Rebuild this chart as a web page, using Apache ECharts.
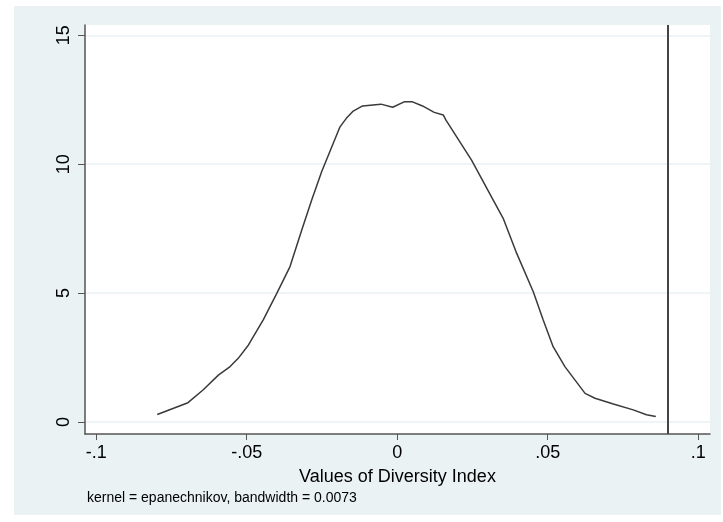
<!DOCTYPE html>
<html>
<head>
<meta charset="utf-8">
<script src="https://cdn.jsdelivr.net/npm/echarts@6/dist/echarts.min.js"></script>
<style>
  html, body { margin: 0; padding: 0; background: #ffffff; }
  #chart { width: 723px; height: 522px; }
</style>
</head>
<body>
<div id="chart"></div>
<script>
  // kernel density estimate
  const densityX = [
    -0.0797, -0.0695, -0.0645, -0.0594, -0.0555, -0.0528, -0.0494, -0.0445,
    -0.0400, -0.0356, -0.0317, -0.0284, -0.0251, -0.0190, -0.0169, -0.0146,
    -0.0115, -0.0054, -0.0015, 0.0023, 0.0051, 0.0084, 0.0123, 0.0153,
    0.0162, 0.0247, 0.0319, 0.0352, 0.0397, 0.0452, 0.0485, 0.0518,
    0.0557, 0.0624, 0.0657, 0.0718, 0.0784, 0.0828, 0.0859
  ]
  const densityY = [
    0.29, 0.75, 1.24, 1.82, 2.15, 2.47, 2.99, 3.96,
    4.99, 6.03, 7.45, 8.61, 9.71, 11.45, 11.78, 12.06,
    12.26, 12.33, 12.21, 12.42, 12.42, 12.26, 12.01, 11.91,
    11.71, 10.16, 8.61, 7.90, 6.54, 5.05, 3.96, 2.92,
    2.15, 1.11, 0.92, 0.70, 0.47, 0.28, 0.21
  ]
  const xTicks = [-0.1, -0.05, 0, 0.05, 0.1]
  const yTicks = [0, 5, 10, 15]
  const refLineX = 0.0908

  const font = "Arial, 'Liberation Sans', sans-serif"
  const chart = echarts.init(document.getElementById('chart'))

  chart.setOption({
    animation: false,
    backgroundColor: '#ffffff',
    graphic: [
      {
        type: 'rect',
        z: -10,
        shape: { x: 14, y: 6, width: 707, height: 509 },
        style: { fill: '#EAF2F3' },
      },
      {
        type: 'text',
        left: 87,
        top: 491,
        style: {
          text: 'kernel = epanechnikov, bandwidth = 0.0073',
          font: '14px ' + font,
          fill: '#000',
        },
      },
    ],
    grid: {
      left: 85,
      right: 13,
      top: 25,
      bottom: 88,
      show: true,
      backgroundColor: '#ffffff',
      borderWidth: 0,
    },
    xAxis: {
      type: 'value',
      min: -0.1037,
      max: 0.1039,
      name: 'Values of Diversity Index',
      nameLocation: 'middle',
      nameGap: 34,
      nameTextStyle: { fontSize: 18, fontFamily: font, color: '#000' },
      axisLine: { onZero: false, lineStyle: { color: '#555', width: 1.5 } },
      axisTick: { customValues: xTicks, length: 6, lineStyle: { color: '#555' } },
      axisLabel: {
        customValues: xTicks,
        margin: 10,
        fontSize: 18,
        fontFamily: font,
        color: '#000',
        formatter: (v) => String(v).replace('0.', '.'),
      },
      splitLine: { show: false },
    },
    yAxis: {
      type: 'value',
      min: -0.465,
      max: 15.4,
      axisLine: { show: true, onZero: false, lineStyle: { color: '#555', width: 1.5 } },
      axisTick: { show: true, customValues: yTicks, length: 7, lineStyle: { color: '#555' } },
      axisLabel: {
        customValues: yTicks,
        rotate: 90,
        margin: 12,
        fontSize: 18,
        fontFamily: font,
        color: '#000',
      },
      splitLine: { show: true, lineStyle: { color: '#EAF2F3', width: 1.5 } },
    },
    series: [
      {
        type: 'line',
        data: densityX.map((x, i) => [x, densityY[i]]),
        showSymbol: false,
        lineStyle: { color: '#3a3a3a', width: 1.5 },
        markLine: {
          silent: true,
          symbol: 'none',
          label: { show: false },
          lineStyle: { color: '#444', width: 2, type: 'solid' },
          data: [{ xAxis: refLineX }],
        },
      },
    ],
  })
</script>
</body>
</html>
